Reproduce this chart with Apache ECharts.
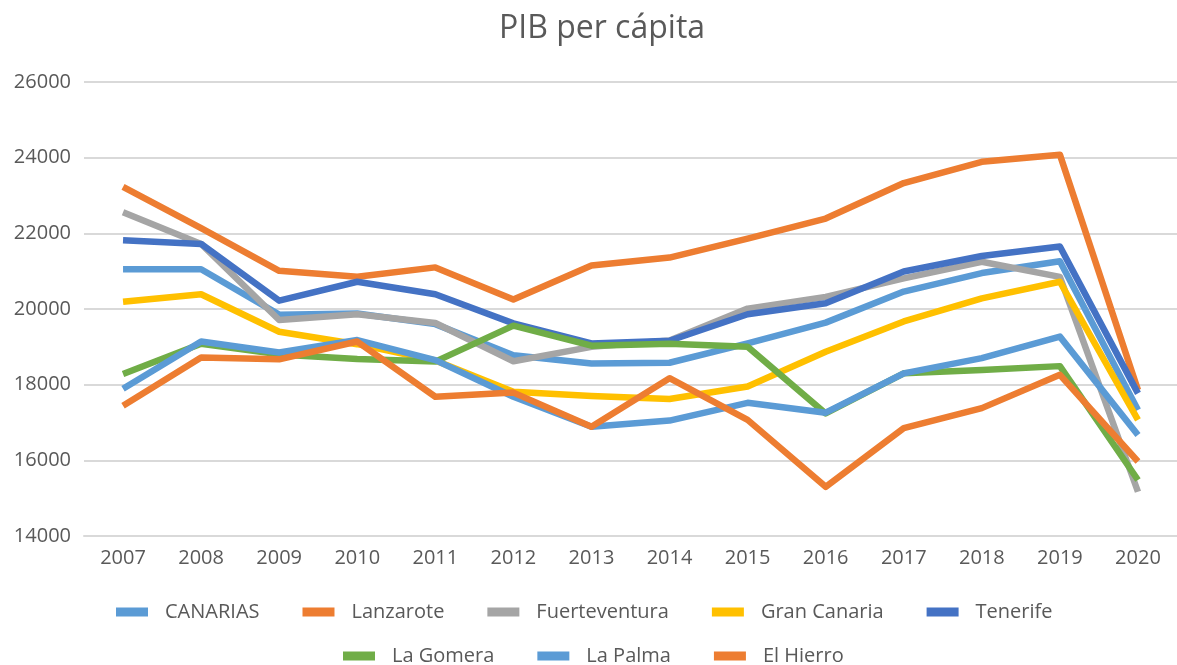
<!DOCTYPE html>
<html>
<head>
<meta charset="utf-8">
<title>PIB per cápita</title>
<script src="https://cdn.jsdelivr.net/npm/echarts@6/dist/echarts.min.js"></script>
<style>
  html, body { margin: 0; padding: 0; background: #fff; }
  #chart { width: 1177px; height: 665px; }
</style>
</head>
<body>
<div id="chart"></div>
<script>
// años
var years = ['2007', '2008', '2009', '2010', '2011', '2012', '2013', '2014', '2015', '2016', '2017', '2018', '2019', '2020'];

// PIB per cápita por isla
var canarias      = [21050, 21050, 19850, 19880, 19600, 18780, 18560, 18580, 19090, 19640, 20460, 20950, 21260, 17330];
var lanzarote     = [23230, 22140, 21010, 20850, 21100, 20250, 21150, 21360, 21860, 22390, 23330, 23890, 24080, 17860];
var fuerteventura = [22560, 21720, 19710, 19860, 19630, 18620, 19000, 19170, 20010, 20320, 20810, 21250, 20850, 15170];
var granCanaria   = [20190, 20390, 19400, 19070, 18640, 17810, 17700, 17620, 17950, 18870, 19670, 20280, 20720, 17070];
var tenerife      = [21820, 21720, 20220, 20720, 20390, 19620, 19090, 19160, 19860, 20150, 20990, 21400, 21650, 17770];
var laGomera      = [18280, 19080, 18800, 18680, 18610, 19560, 19030, 19080, 19000, 17240, 18300, 18390, 18490, 15480];
var laPalma       = [17890, 19140, 18850, 19180, 18650, 17680, 16890, 17050, 17520, 17260, 18300, 18700, 19270, 16670];
var elHierro      = [17440, 18720, 18670, 19140, 17680, 17790, 16890, 18170, 17070, 15300, 16850, 17380, 18260, 15970];

var textColor = '#595959';
var font = 'Open Sans';

function line(name, data, color) {
  return {
    name: name,
    type: 'line',
    data: data,
    showSymbol: false,
    symbol: 'none',
    color: color,
    lineStyle: { color: color, width: 6.5, join: 'round' },
    emphasis: { disabled: true }
  };
}

var chart = echarts.init(document.getElementById('chart'));
chart.setOption({
  animation: false,
  textStyle: { fontFamily: font },
  title: {
    text: 'PIB per cápita',
    left: 494,
    top: 8,
    textStyle: { color: textColor, fontSize: 32, fontWeight: 'normal', fontFamily: font }
  },
  legend: [
    {
      data: ['CANARIAS', 'Lanzarote', 'Fuerteventura', 'Gran Canaria', 'Tenerife'],
      left: 111,
      top: 597,
      icon: 'rect',
      itemWidth: 32,
      itemHeight: 9,
      itemGap: 43,
      textStyle: { color: textColor, fontSize: 20, fontFamily: font, padding: [0, 0, 0, 12] }
    },
    {
      data: ['La Gomera', 'La Palma', 'El Hierro'],
      left: 338,
      top: 641,
      icon: 'rect',
      itemWidth: 32,
      itemHeight: 9,
      itemGap: 43,
      textStyle: { color: textColor, fontSize: 20, fontFamily: font, padding: [0, 0, 0, 12] }
    }
  ],
  grid: {
    left: 84,
    right: -10,
    top: 82,
    bottom: 129,
    containLabel: false
  },
  xAxis: {
    type: 'category',
    data: years,
    boundaryGap: true,
    axisLine: { lineStyle: { color: '#D9D9D9', width: 2 } },
    axisTick: { show: false },
    axisLabel: { color: textColor, fontSize: 20, margin: 12, fontFamily: font }
  },
  yAxis: {
    type: 'value',
    min: 14000,
    max: 26000,
    interval: 2000,
    axisLine: { show: false },
    axisTick: { show: false },
    axisLabel: {
      color: textColor,
      fontSize: 20,
      margin: 13,
      fontFamily: font,
      formatter: function (v) { return String(v); }
    },
    splitLine: { lineStyle: { color: '#D9D9D9', width: 2 } }
  },
  series: [
    line('CANARIAS', canarias, '#5B9BD5'),
    line('Lanzarote', lanzarote, '#ED7D31'),
    line('Fuerteventura', fuerteventura, '#A5A5A5'),
    line('Gran Canaria', granCanaria, '#FFC000'),
    line('Tenerife', tenerife, '#4472C4'),
    line('La Gomera', laGomera, '#70AD47'),
    line('La Palma', laPalma, '#5B9BD5'),
    line('El Hierro', elHierro, '#ED7D31')
  ]
});
</script>
</body>
</html>
